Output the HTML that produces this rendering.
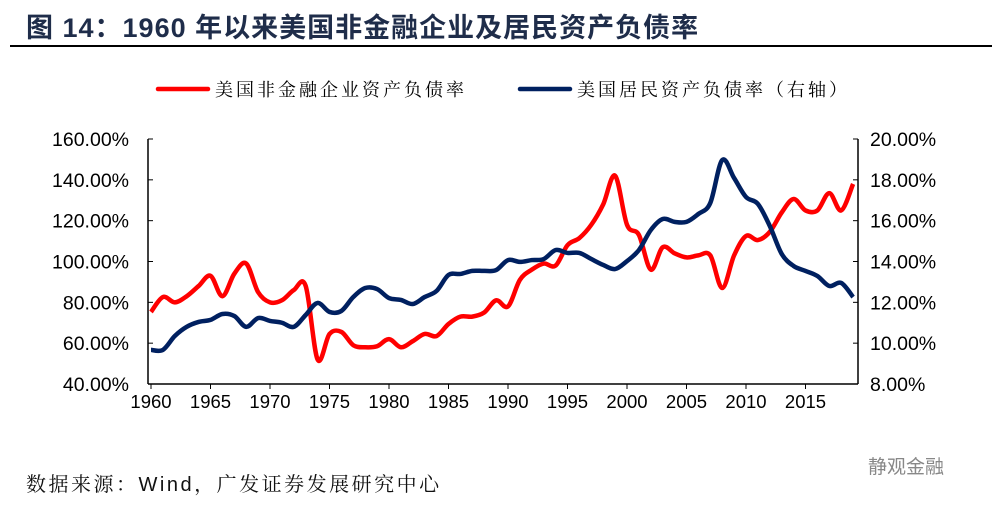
<!DOCTYPE html>
<html><head><meta charset="utf-8">
<style>
body{margin:0;background:#fff;width:1000px;height:507px;overflow:hidden;position:relative;font-family:"Liberation Sans","Noto Sans CJK SC",sans-serif}
#title{position:absolute;left:26px;top:6px;font-size:27px;font-weight:bold;color:#1f2d4a;white-space:nowrap;letter-spacing:1px}
#rule{position:absolute;left:10px;top:45px;width:982px;height:2px;background:#000}
#src{position:absolute;left:26px;top:468px;font-size:20px;color:#111;font-family:"Liberation Sans","Noto Serif CJK SC",serif;white-space:nowrap;letter-spacing:2.5px}
#wm{position:absolute;left:868px;top:452px;font-size:19px;color:#888;white-space:nowrap}
svg{position:absolute;left:0;top:0}
</style></head><body>
<div id="title">图 14：1960 年以来美国非金融企业及居民资产负债率</div>
<div id="rule"></div>
<svg id="chart" width="1000" height="507"></svg>
<div id="src">数据来源：Wind，广发证券发展研究中心</div>
<div id="wm">静观金融</div>
<script>
const years=[];for(let y=1960;y<=2019;y++)years.push(y);
const corpDebt=[75.3,82.6,80,83,88,93,83,94,99,85,80,81,86,88,52,64.5,65.5,59,58,58.5,62,58,61,64.5,63.5,69.4,73,73,75,81,78,91,96,99,98,108,111.5,118,128,142,118,113,96,107,104,102,103,103,87,103,112.5,110.5,114.5,124,130.6,125,125,133.5,125,138];
const householdDebt=[9.67,9.67,10.35,10.8,11.04,11.14,11.43,11.33,10.8,11.23,11.09,11.0,10.8,11.38,11.97,11.53,11.58,12.26,12.7,12.65,12.21,12.12,11.92,12.26,12.56,13.34,13.39,13.54,13.54,13.58,14.07,13.98,14.07,14.12,14.56,14.42,14.42,14.12,13.83,13.63,14.02,14.56,15.54,16.08,15.94,15.94,16.33,16.87,18.97,18.09,17.16,16.82,15.74,14.37,13.78,13.54,13.29,12.8,12.95,12.26];
const leftTicks=[40,60,80,100,120,140,160];
const rightTicks=[8,10,12,14,16,18,20];
const xTicks=[1960,1965,1970,1975,1980,1985,1990,1995,2000,2005,2010,2015];
const L=148,R=858,T=139,B=384;
const xs=y=>151+(y-1960)*11.9;
const yl=v=>B-(v-40)/120*(B-T);
const yr=v=>B-(v-8)/12*(B-T);
const svg=document.getElementById('chart');const NS='http://www.w3.org/2000/svg';
function el(t,a,txt){const e=document.createElementNS(NS,t);for(const k in a)e.setAttribute(k,a[k]);if(txt!=null)e.textContent=txt;svg.appendChild(e);return e;}
let e;
e=el('line',{x1:L,y1:T,x2:L,y2:B,stroke:'#000','stroke-width':1.5});


e=el('line',{x1:R,y1:T,x2:R,y2:B,stroke:'#000','stroke-width':1.5});


e=el('line',{x1:L,y1:B,x2:R,y2:B,stroke:'#000','stroke-width':1.5});


leftTicks.forEach(v=>{const y=yl(v);el('line',{x1:L,y1:y,x2:L+5,y2:y,stroke:'#000'});
e=el('text',{x:L-19,y:y+7,'text-anchor':'end','font-size':19.5,fill:'#000'},v.toFixed(2)+'%');

});
rightTicks.forEach(v=>{const y=yr(v);el('line',{x1:R-5,y1:y,x2:R,y2:y,stroke:'#000'});
e=el('text',{x:R+12,y:y+7,'font-size':19.5,fill:'#000'},v.toFixed(2)+'%');

});
xTicks.forEach(v=>{const x=xs(v);el('line',{x1:x,y1:B,x2:x,y2:B+5,stroke:'#000'});
e=el('text',{x:x,y:B+24,'text-anchor':'middle','font-size':18.5,fill:'#000'},v);

});
function smooth(pts){let d='M'+pts[0][0]+','+pts[0][1];for(let i=0;i<pts.length-1;i++){const p0=pts[i-1]||pts[i],p1=pts[i],p2=pts[i+1],p3=pts[i+2]||p2;
d+=' C'+(p1[0]+(p2[0]-p0[0])/6)+','+(p1[1]+(p2[1]-p0[1])/6)+' '+(p2[0]-(p3[0]-p1[0])/6)+','+(p2[1]-(p3[1]-p1[1])/6)+' '+p2[0]+','+p2[1];}return d;}
e=el('path',{d:smooth(years.map((y,i)=>[xs(y),yl(corpDebt[i])])),fill:'none',stroke:'#ff0000','stroke-width':4.5,'stroke-linejoin':'round'});


e=el('path',{d:smooth(years.map((y,i)=>[xs(y),yr(householdDebt[i])])),fill:'none',stroke:'#002060','stroke-width':4.5,'stroke-linejoin':'round'});


const lf='"Liberation Serif","Noto Serif CJK SC",serif';
e=el('line',{x1:158,y1:89,x2:208,y2:89,stroke:'#ff0000','stroke-width':4.5,'stroke-linecap':'round'});


e=el('text',{x:215,y:96,'font-size':18,'letter-spacing':3,'font-family':lf,fill:'#000'},'美国非金融企业资产负债率');


e=el('line',{x1:520,y1:89,x2:570,y2:89,stroke:'#002060','stroke-width':4.5,'stroke-linecap':'round'});


e=el('text',{x:577,y:96,'font-size':18,'letter-spacing':3,'font-family':lf,fill:'#000'},'美国居民资产负债率（右轴）');


</script>
</body></html>
